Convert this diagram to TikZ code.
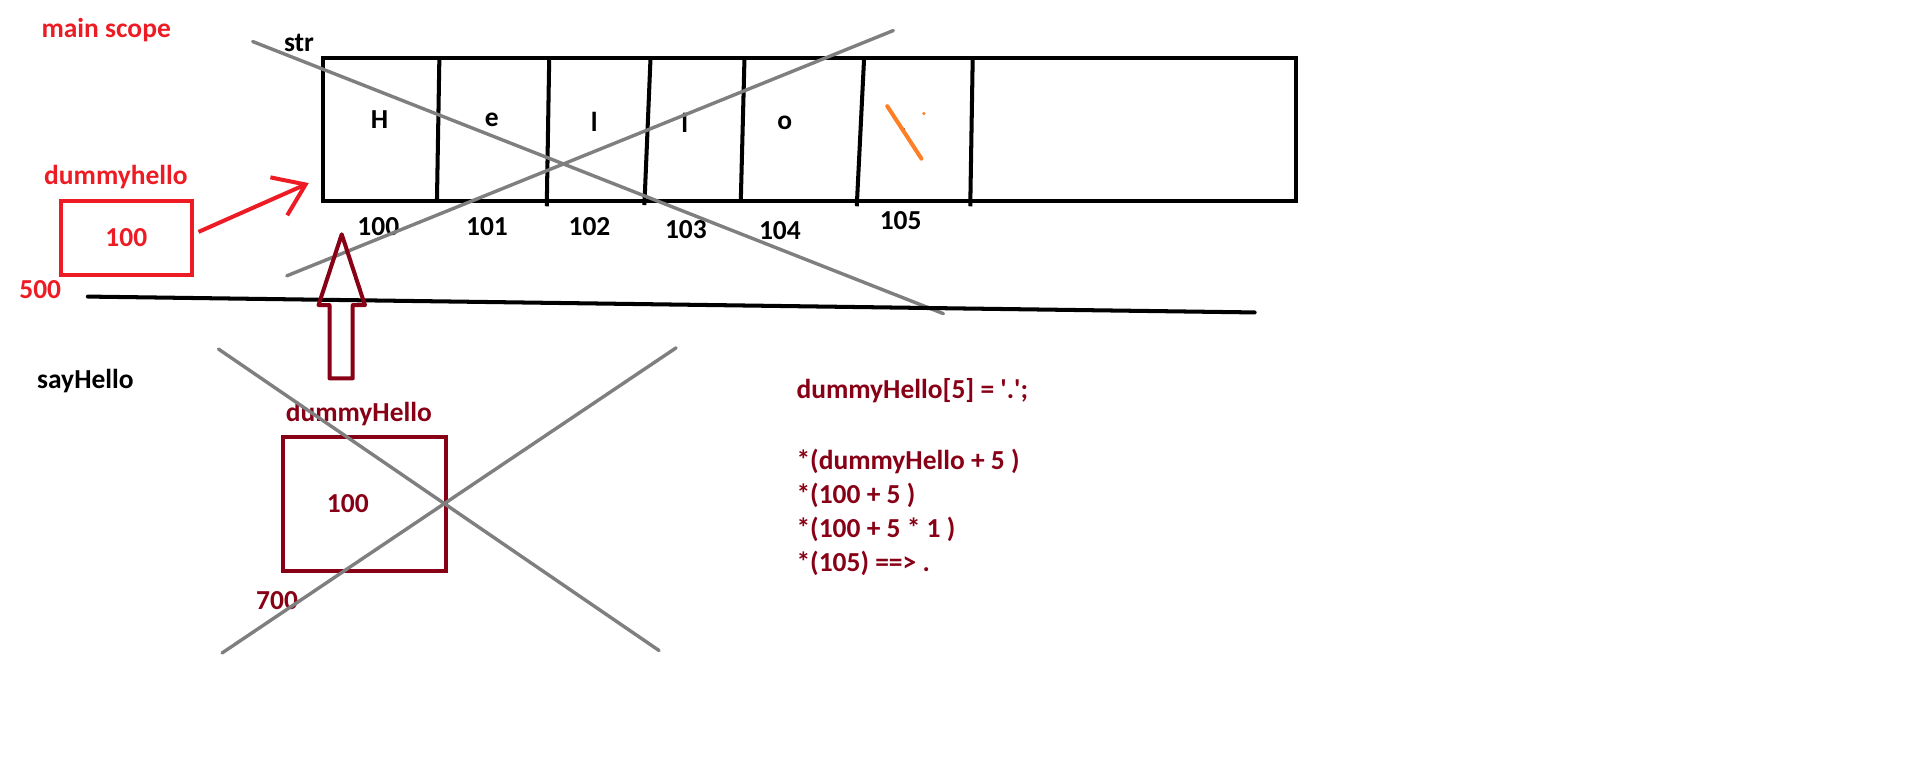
\documentclass[tikz,border=0pt]{standalone}
\usepackage{fontspec}
\setmainfont{Carlito}
\usetikzlibrary{arrows.meta,positioning}

\definecolor{paintred}{RGB}{237,28,36}
\definecolor{paintdark}{RGB}{136,0,21}
\definecolor{paintgray}{RGB}{127,127,127}
\definecolor{paintorange}{RGB}{255,127,39}

\begin{document}
\begin{tikzpicture}[x=1pt, y=-1pt, line width=3.3pt]

   \tikzstyle{lbl}=[font=\fontsize{22.5}{26}\selectfont\bfseries, inner sep=0pt]
   \tikzstyle{addr}=[lbl, text=black]
   \tikzstyle{var}=[rectangle, draw, line width=3.3pt, inner sep=0pt]
   \tikzstyle{strike}=[paintgray, line width=2.8pt, line cap=round]
   \tikzstyle{code}=[lbl, text=paintdark, anchor=west]

   \useasboundingbox (0,0) rectangle (1565,633);

   % main scope
   \node[lbl, text=paintred] (main) at (87,25) {main scope};
   \node[lbl] (strname) at (245,35) {str};

   \node[var, minimum width=797pt, minimum height=117pt] (str) at (663.5,106) {};
   \draw (360,48) -- (358,166);
   \draw (450,48) -- (448,169);
   \draw (533,48) -- (528,168);
   \draw (610,48) -- (607,164);
   \draw (708,48) -- (702,169);
   \draw (797,48) -- (795,169);

   \node[lbl] (c0) at (311,98)  {H};
   \node[lbl] (c1) at (403,98)  {e};
   \node[lbl] (c2) at (487,100) {l};
   \node[lbl] (c3) at (561,101) {l};
   \node[lbl] (c4) at (643,101) {o};
   \node[lbl, font=\fontsize{10}{12}\selectfont\bfseries] (c5) at (741,106) {.};
   \draw[paintorange, line cap=round] (727,87) -- (755,130);
   \fill[paintorange] (757,93) circle (1.5pt);

   \node[addr] (a0) at (310,186) {100};
   \node[addr] (a1) at (399,186) {101};
   \node[addr] (a2) at (483,186) {102};
   \node[addr] (a3) at (562,188) {103};
   \node[addr] (a4) at (639,189) {104};
   \node[addr] (a5) at (738,181) {105};

   \node[lbl, text=paintred] (dh) at (95,145) {dummyhello};
   \node[var, draw=paintred, text=paintred, lbl, minimum width=107pt, minimum height=60pt] (rbox) at (103.5,195) {100};
   \node[lbl, text=paintred] (a500) at (33,237) {500};
   \coordinate (rtip) at (253,150);
   \draw[paintred, -{Straight Barb[length=24pt,width=34pt]}] ([xshift=4pt,yshift=5pt]rbox.east) -- (rtip);

   \draw[strike] (207,34) -- (773,257);
   \draw[strike] (235,226) -- (732,25);

   % stack line
   \coordinate (s0) at (72,243);
   \coordinate (s1) at (1028,256);
   \draw[line cap=round] (s0) -- (s1);

   % sayHello
   \node[lbl] (say) at (70,312) {sayHello};
   \node[lbl, text=paintdark] (dH) at (294,339) {dummyHello};
   \node[var, draw=paintdark, text=paintdark, lbl, minimum width=134pt, minimum height=110pt] (dbox) at (298.5,413) {};
   \node[lbl, text=paintdark] (v100) at (285,413) {100};
   \node[lbl, text=paintdark] (a700) at (227,492) {700};

   \draw[paintdark, line join=round] (280,192) -- (299,250) -- (289,250) -- (289,310)
      -- (270,310) -- (270,250) -- (261,250) -- cycle;

   \draw[strike] (179,286) -- (540,533);
   \draw[strike] (182,535) -- (554,285);

   \node[code] (l1) at (651,320) {dummyHello[5] = \textquotesingle.\textquotesingle;};
   \node[code] (l2) at (651,378) {*(dummyHello + 5 )};
   \node[code] (l3) at (651,406) {*(100 + 5 )};
   \node[code] (l4) at (651,434) {*(100 + 5 * 1 )};
   \node[code] (l5) at (651,462) {*(105) ==> .};
\end{tikzpicture}
\end{document}
